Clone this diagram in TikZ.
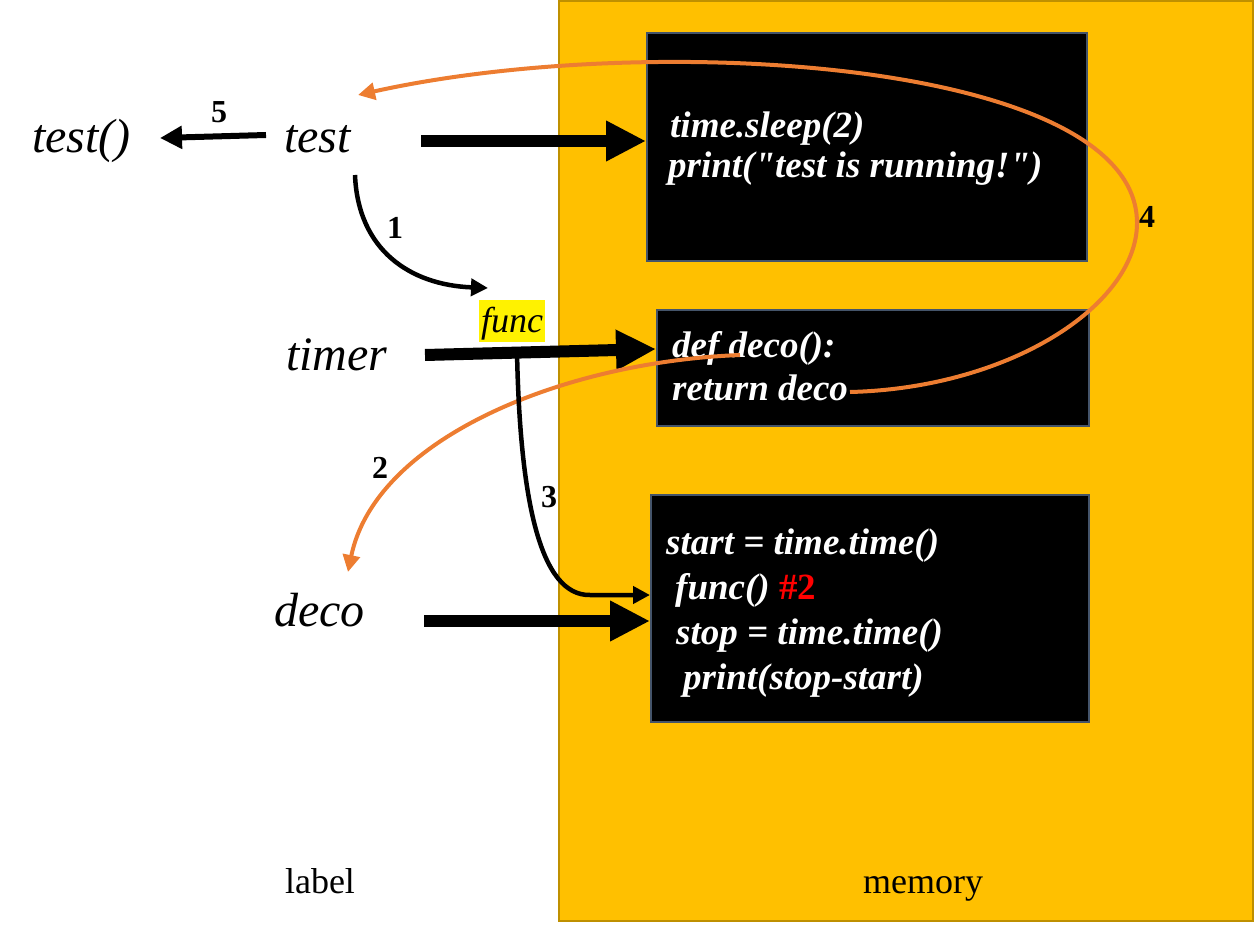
\documentclass[tikz,border=0pt]{standalone}
\usepackage{fontspec}
\setmainfont{Liberation Serif}[Ligatures=TeXOff]
\usetikzlibrary{arrows.meta,calc}
\definecolor{memfill}{HTML}{FFC000}
\definecolor{memedge}{HTML}{BF9000}
\definecolor{boxedge}{HTML}{44546A}
\definecolor{orangeline}{HTML}{ED7D31}
\tikzset{
	fat/.style={line width=12pt,-{Triangle[length=40pt,width=38pt]}},
	jump/.style={line width=4.5pt,-{Triangle[length=17pt,width=17pt]}},
	back/.style={draw=orangeline,line width=4pt,-{Triangle[length=17pt,width=17pt]}},
	codebox/.style={fill=black,draw=boxedge,line width=2pt,anchor=north west,inner sep=0},
	code/.style={text=white,font=\bfseries\itshape\fontsize{37}{40}\selectfont,anchor=base west,inner sep=0},
	label/.style={font=\itshape\fontsize{48}{56}\selectfont,anchor=base west,inner sep=0},
	num/.style={font=\bfseries\fontsize{32}{32}\selectfont,inner sep=0},
	caption/.style={font=\fontsize{36}{40}\selectfont,anchor=base,inner sep=0}
}
\begin{document}
\begin{tikzpicture}[x=1pt,y=-1pt]
\useasboundingbox (0,0) rectangle (1255,925);
\draw[fill=memfill,draw=memedge,line width=2pt] (559,1) rectangle (1253,921);
\node[codebox,minimum width=440pt,minimum height=228pt] (sleepbox) at (646,32) {};
\node[codebox,minimum width=432pt,minimum height=116pt] (decobox) at (656,309) {};
\node[codebox,minimum width=438pt,minimum height=227pt] (wrapbox) at (650,494) {};
\node[code] at (670,138) {time.sleep(2)};
\node[code] at (668,178) {print("test is running!")};
\node[code] at (672,357) {def deco():};
\node[code] at (672,400) {return deco};
\node[code] at (666,554) {start = time.time()};
\node[code] at (675,599) {func() \textcolor{red}{\upshape\#2}};
\node[code] at (676,644) {stop = time.time()};
\node[code] at (683,689) {print(stop-start)};
\node[label] (call) at (32,153) {test()};
\node[label] (test) at (284,153) {test};
\node[label] (timer) at (286,370) {timer};
\node[label] (deco) at (274,626) {deco};
\node[label,font=\itshape\fontsize{36}{40}\selectfont,fill=yellow,inner sep=2pt,text height=30pt,text depth=8pt] (func) at (479,332) {func};
\node[caption] at (320,893) {label};
\node[caption] at (923,893) {memory};
\coordinate (t0) at (421,141);
\coordinate (m0) at (425,355);
\coordinate (d0) at (424,621);
\coordinate (f0) at (590,595);
\draw[fat] (t0) -- (t0 -| sleepbox.west);
\draw[fat] (m0) -- ($(decobox.west)+(0,-19)$);
\draw[fat] (d0) -- (d0 -| wrapbox.west);
\coordinate (r0) at (740,355);
\coordinate (r1) at (850,392);
\draw[back] (r0) .. controls (560,362) and (375,440) .. (348,572);
\draw[back] (r1) .. controls (1010,388) and (1137,305) .. (1137,223) .. controls (1137,60) and (650,30) .. (358,95);
\draw[jump] (517,352) .. controls (520,500) and (540,596) .. (f0) -- (f0 -| wrapbox.west);
\draw[jump] (355,175) .. controls (358,250) and (410,285) .. (488,288);
\draw[jump,line width=6pt,-{Triangle[length=22pt,width=22pt]}] (266,135) -- (160,138);
\node[num] at (219,112) {5};
\node[num] at (395,228) {1};
\node[num] at (380,468) {2};
\node[num] at (549,497) {3};
\node[num] at (1147,217) {4};
\end{tikzpicture}
\end{document}
